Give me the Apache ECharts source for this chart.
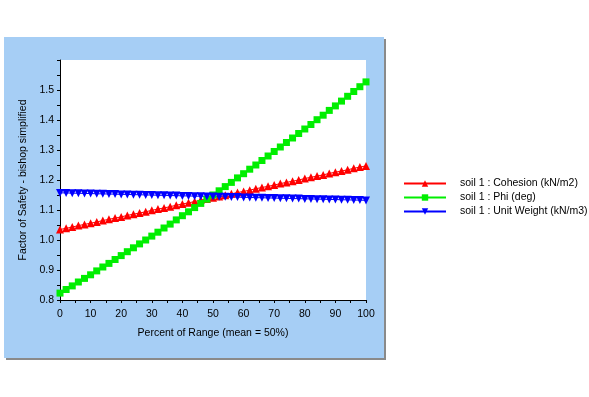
<!DOCTYPE html>
<html>
  <head>
    <meta charset="UTF-8">
    <title>Sensitivity</title>
    <script src="https://cdn.jsdelivr.net/npm/echarts@6/dist/echarts.min.js"></script>
    <style>
    * {
      margin: 0;
      padding: 0;
    }
    </style>
  </head>
  <body>
    <div id="main" style="width: 589px;height: 397px"></div>
    <script>
// percent of range, 0..100 step 2
var pct = [0, 2, 4, 6, 8, 10, 12, 14, 16, 18, 20, 22, 24, 26, 28, 30, 32, 34, 36, 38, 40,
  42, 44, 46, 48, 50, 52, 54, 56, 58, 60, 62, 64, 66, 68, 70, 72, 74, 76, 78, 80,
  82, 84, 86, 88, 90, 92, 94, 96, 98, 100]

var cohesion = [1.035, 1.039, 1.043, 1.048, 1.052, 1.056, 1.060, 1.065, 1.069, 1.073, 1.077,
  1.082, 1.086, 1.090, 1.094, 1.099, 1.103, 1.107, 1.111, 1.116, 1.120,
  1.124, 1.128, 1.133, 1.137, 1.141, 1.145, 1.149, 1.154, 1.158, 1.162,
  1.166, 1.171, 1.175, 1.179, 1.183, 1.188, 1.192, 1.196, 1.200, 1.205,
  1.209, 1.213, 1.217, 1.222, 1.226, 1.230, 1.234, 1.239, 1.243, 1.247]

var phi = [0.823, 0.835, 0.847, 0.860, 0.872, 0.884, 0.897, 0.910, 0.922, 0.935, 0.948,
  0.961, 0.974, 0.987, 1.000, 1.013, 1.026, 1.040, 1.053, 1.067, 1.081,
  1.094, 1.108, 1.122, 1.136, 1.150, 1.164, 1.178, 1.192, 1.207, 1.221,
  1.236, 1.250, 1.265, 1.280, 1.295, 1.310, 1.325, 1.340, 1.355, 1.370,
  1.385, 1.401, 1.416, 1.432, 1.447, 1.463, 1.479, 1.495, 1.511, 1.527]

var unitWeight = [1.157, 1.157, 1.156, 1.156, 1.155, 1.155, 1.154, 1.154, 1.153, 1.153, 1.152,
  1.152, 1.151, 1.151, 1.150, 1.150, 1.149, 1.149, 1.148, 1.148, 1.147,
  1.147, 1.146, 1.146, 1.145, 1.145, 1.144, 1.144, 1.143, 1.143, 1.142,
  1.142, 1.141, 1.141, 1.140, 1.140, 1.139, 1.139, 1.138, 1.138, 1.137,
  1.137, 1.136, 1.136, 1.135, 1.135, 1.134, 1.134, 1.133, 1.133, 1.132]

var names = ['soil 1 : Cohesion (kN/m2)', 'soil 1 : Phi (deg)', 'soil 1 : Unit Weight (kN/m3)']

function pairs(ys) {
  return pct.map((x, i) => [x, ys[i]])
}

var font = 'Arial, "Liberation Sans", sans-serif'
var txt = { color: '#000', fontFamily: font, fontSize: 10.5 }

var myChart = echarts.init(document.getElementById('main'))
var option = {
  backgroundColor: '#fff',
  animation: false,
  graphic: [
    { type: 'rect', z: -10, shape: { x: 6, y: 39, width: 380, height: 321 }, style: { fill: '#8a8a8a' } },
    { type: 'rect', z: -9, shape: { x: 4, y: 37, width: 380, height: 321 }, style: { fill: '#a6cef5' } }
  ],
  grid: {
    left: 60, top: 60, width: 306, height: 240,
    show: true, backgroundColor: '#fff', borderWidth: 0
  },
  legend: {
    orient: 'vertical',
    left: 403, top: 178, padding: 0,
    itemWidth: 42, itemHeight: 8, itemGap: 3,
    textStyle: Object.assign({ padding: [0, 0, 0, 9] }, txt),
    data: names
  },
  xAxis: {
    type: 'value', min: 0, max: 100, interval: 10,
    name: 'Percent of Range (mean = 50%)',
    nameLocation: 'middle', nameGap: 28,
    nameTextStyle: txt,
    axisLine: { lineStyle: { color: '#000', width: 1 } },
    axisTick: { length: 3, lineStyle: { color: '#000' } },
    minorTick: { show: true, splitNumber: 2, length: 3, lineStyle: { color: '#000' } },
    axisLabel: Object.assign({ margin: 9 }, txt),
    splitLine: { show: false }
  },
  yAxis: {
    type: 'value', min: 0.8, max: 1.6, interval: 0.1,
    name: 'Factor of Safety - bishop simplified',
    nameLocation: 'middle', nameGap: 27,
    nameTextStyle: txt,
    axisLine: { show: true, lineStyle: { color: '#000', width: 1 } },
    axisTick: { show: true, length: 3, lineStyle: { color: '#000' } },
    minorTick: { show: true, splitNumber: 2, length: 3, lineStyle: { color: '#000' } },
    axisLabel: Object.assign({ margin: 6, showMaxLabel: false, formatter: v => v.toFixed(1) }, txt),
    splitLine: { show: false }
  },
  series: [
    {
      name: names[0], type: 'line', data: pairs(cohesion),
      symbol: 'triangle', symbolSize: 8,
      lineStyle: { color: '#ff0000', width: 1 },
      itemStyle: { color: '#ff0000' }
    },
    {
      name: names[1], type: 'line', data: pairs(phi),
      symbol: 'rect', symbolSize: 7,
      lineStyle: { color: '#00ee00', width: 1 },
      itemStyle: { color: '#00ee00' }
    },
    {
      name: names[2], type: 'line', data: pairs(unitWeight),
      symbol: 'triangle', symbolRotate: 180, symbolSize: 8,
      lineStyle: { color: '#0000ff', width: 1 },
      itemStyle: { color: '#0000ff' }
    }
  ]
}
myChart.setOption(option)
    </script>
  </body>
</html>
